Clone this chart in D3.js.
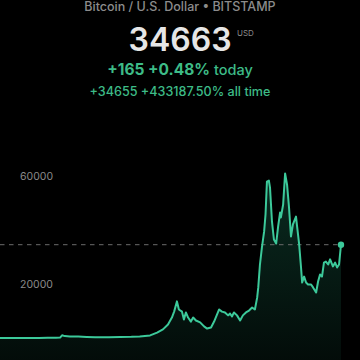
<!DOCTYPE html>
<html>
<head>
<meta charset="utf-8">
<script src="https://cdn.jsdelivr.net/npm/d3@7"></script>
<style>
  html, body { margin: 0; padding: 0; background: #000; }
  svg { display: block; }
</style>
</head>
<body>
<svg id="chart" width="360" height="360"></svg>
<script>
// ---- data (decimal year, price in USD) ----
const years = [
  2011.60, 2011.90, 2012.30, 2012.70, 2013.00, 2013.30, 2013.60, 2013.75, 2013.82, 2013.92,
  2014.10, 2014.40, 2014.70, 2015.00, 2015.50, 2015.90, 2016.30, 2016.60, 2016.97,
  2017.22, 2017.43, 2017.61, 2017.75, 2017.83, 2017.93, 2018.00, 2018.11, 2018.18, 2018.25,
  2018.33, 2018.43, 2018.51, 2018.61, 2018.76, 2018.90, 2019.01, 2019.15, 2019.26, 2019.44,
  2019.54, 2019.65, 2019.76, 2019.83, 2019.90, 2019.97, 2020.08, 2020.19, 2020.29, 2020.40,
  2020.51, 2020.62, 2020.72, 2020.80, 2020.84, 2020.90, 2020.97, 2021.05, 2021.10, 2021.15,
  2021.22, 2021.26, 2021.33, 2021.40, 2021.48, 2021.55, 2021.62, 2021.65, 2021.73, 2021.80,
  2021.87, 2021.94, 2022.01, 2022.08, 2022.19, 2022.23, 2022.30, 2022.37, 2022.41, 2022.48,
  2022.55, 2022.62, 2022.73, 2022.80, 2022.91, 2022.98, 2023.05, 2023.12, 2023.19, 2023.26,
  2023.34, 2023.41, 2023.51, 2023.59, 2023.66, 2023.73, 2023.80
];
const prices = [
  8, 3, 5, 11, 13, 100, 100, 150, 1000, 700,
  600, 550, 400, 250, 250, 380, 420, 600, 950,
  2000, 3200, 5000, 7600, 9800, 13600, 10600, 9800, 6900, 9500,
  7600, 6100, 7600, 6500, 5800, 4300, 3500, 3900, 6100, 10600,
  9800, 9500, 8400, 9100, 8000, 9500, 8400, 6500, 8400, 9500,
  10200, 11300, 10600, 15000, 18800, 27300, 33600, 39600, 45900, 58100,
  58500, 55900, 43300, 36600, 35100, 41400, 46600, 44800, 49600, 61100,
  57000, 48500, 37700, 42200, 45100, 41400, 35100, 26200, 20600, 22800,
  20600, 19900, 19900, 18800, 16900, 21000, 23600, 22800, 28000, 28400,
  27300, 29200, 26600, 28000, 26200, 27300, 34663
];
const yTicks = [20000, 60000];
const titleText = "Bitcoin / U.S. Dollar \u2022 BITSTAMP";
const priceText = "34663";
const currencyText = "USD";
const todayParts = ["+165 +0.48%", " today"];
const allTimeText = "+34655 +433187.50% all time";

// ---- setup ----
const W = 360, H = 360;
const svg = d3.select("#chart");
const font = "Inter, 'Liberation Sans', sans-serif";
const lineColor = "#3cc99a";
const green = "#3dbb87";

const x = d3.scaleLinear().domain([d3.min(years), d3.max(years)]).range([0, 341]);
const y = d3.scaleLinear().domain([0, 60000]).range([338, 176.5]);

const data = years.map((yr, i) => ({ t: yr, v: prices[i] }));

// gradient
const defs = svg.append("defs");
const grad = defs.append("linearGradient")
  .attr("id", "fillGrad").attr("gradientUnits", "userSpaceOnUse")
  .attr("x1", 0).attr("x2", 0).attr("y1", y(62000)).attr("y2", H);
grad.append("stop").attr("offset", "0%").attr("stop-color", "#2ec896").attr("stop-opacity", 0.22);
grad.append("stop").attr("offset", "100%").attr("stop-color", "#2ec896").attr("stop-opacity", 0.06);

// area
const area = d3.area().x(d => x(d.t)).y0(H).y1(d => y(d.v)).curve(d3.curveLinear);
svg.append("path").datum(data).attr("d", area).attr("fill", "url(#fillGrad)");

// current price dashed line
const last = data[data.length - 1];
svg.append("line")
  .attr("x1", 0).attr("x2", x(last.t))
  .attr("y1", y(last.v)).attr("y2", y(last.v))
  .attr("stroke", "#6a6a6a").attr("stroke-width", 1)
  .attr("stroke-dasharray", "4.5,4.5");

// line
const line = d3.line().x(d => x(d.t)).y(d => y(d.v)).curve(d3.curveLinear);
svg.append("path").datum(data).attr("d", line)
  .attr("fill", "none").attr("stroke", lineColor).attr("stroke-width", 2)
  .attr("stroke-linejoin", "round").attr("stroke-linecap", "round");

// end dot
svg.append("circle").attr("cx", x(last.t)).attr("cy", y(last.v)).attr("r", 3.2).attr("fill", lineColor);

// y tick labels
svg.append("g").selectAll("text").data(yTicks).join("text")
  .attr("x", 20).attr("y", d => y(d))
  .attr("dy", "0.36em")
  .attr("font-family", font).attr("font-size", 10.5)
  .attr("fill", "#8a8a8a")
  .text(d => d);

// header texts
svg.append("text").attr("x", 180).attr("y", 10.5).attr("text-anchor", "middle")
  .attr("font-family", font).attr("font-size", 12.5).attr("font-weight", 500)
  .attr("fill", "#8c8c8c").text(titleText);

svg.append("text").attr("x", 180).attr("y", 51).attr("text-anchor", "middle")
  .attr("font-family", font).attr("font-size", 32).attr("font-weight", 600)
  .attr("fill", "#e6e6e6").text(priceText);

svg.append("text").attr("x", 237).attr("y", 35.5)
  .attr("font-family", font).attr("font-size", 8).attr("font-weight", 400)
  .attr("fill", "#8a8a8a").text(currencyText);

const t1 = svg.append("text").attr("x", 180).attr("y", 75).attr("text-anchor", "middle")
  .attr("font-family", font).attr("font-size", 15.5).attr("fill", green);
t1.append("tspan").attr("font-weight", 700).text(todayParts[0]);
t1.append("tspan").attr("font-weight", 500).attr("font-size", 14.5).text(todayParts[1]);

svg.append("text").attr("x", 180).attr("y", 96).attr("text-anchor", "middle")
  .attr("font-family", font).attr("font-size", 12.6).attr("font-weight", 500)
  .attr("fill", green).text(allTimeText);
</script>
</body>
</html>
